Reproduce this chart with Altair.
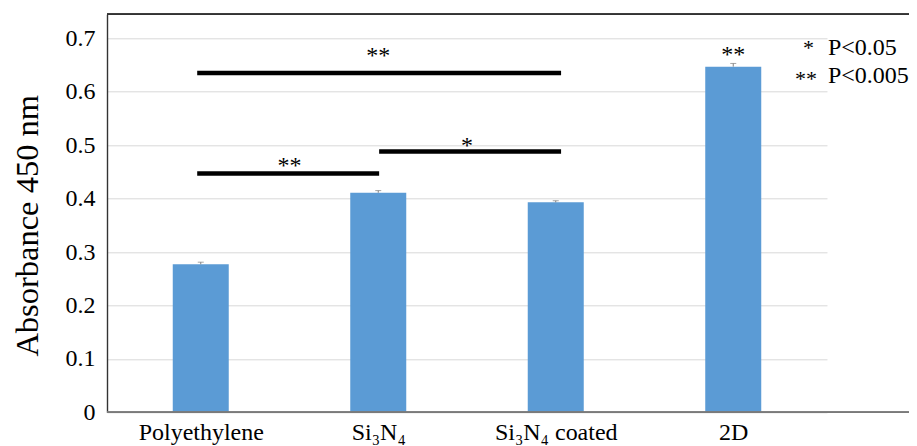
import json
import altair as alt
import pandas as pd

# ---- data ----
categories = ["Polyethylene", "Si\u2083N\u2084", "Si\u2083N\u2084 coated", "2D"]
positions = [0, 1, 2, 3]
absorbance = [0.277, 0.411, 0.393, 0.647]
errors = [0.004, 0.004, 0.003, 0.006]

sig_start = [-0.02, 1.005, -0.02]
sig_end = [1.005, 2.03, 2.03]
sig_level = [0.447, 0.488, 0.635]

star_pos = [0.5, 1.5, 1.0, 3.0]
star_level = [0.4685, 0.506, 0.675, 0.676]
star_label = ["**", "*", "**", "**"]

y_ticks = [0, 0.1, 0.2, 0.3, 0.4, 0.5, 0.6, 0.7]

FONT = "Liberation Serif, Times New Roman, serif"
W, H = 720, 398

bars_df = pd.DataFrame({
    "pos": positions,
    "cat": categories,
    "val": absorbance,
    "top": [v + e for v, e in zip(absorbance, errors)],
})
sig_df = pd.DataFrame({"x": sig_start, "x2": sig_end, "y": sig_level})
star_df = pd.DataFrame({"x": star_pos, "y": star_level, "t": star_label})

label_expr = json.dumps(categories) + "[datum.value]"

xscale = alt.Scale(domain=[-0.5, 3.5], nice=False, zero=False)
yscale = alt.Scale(domain=[0, 0.745], nice=False)

x_axis = alt.Axis(values=positions, labelExpr=label_expr, grid=False, ticks=False,
                  domain=False, labelPadding=8, labelFontSize=24, labelFont=FONT,
                  labelColor="#000000", title=None)
y_axis = alt.Axis(values=y_ticks, grid=True, gridColor="#d9d9d9", gridWidth=1,
                  ticks=False, domain=True, domainColor="#333333", domainWidth=1.4,
                  labelPadding=12, labelFontSize=24, labelFont=FONT, labelColor="#000000",
                  labelExpr="datum.value == 0 ? '0' : format(datum.value, '.1f')",
                  title="Absorbance 450 nm", titleFont=FONT, titleFontSize=32.5,
                  titleFontWeight="normal", titleColor="#000000",
                  titleX=-70, titleY=211, titleBaseline="alphabetic", titleAngle=-90)

base = alt.Chart(bars_df)

bars = base.mark_bar(size=56, color="#5B9BD5").encode(
    x=alt.X("pos:Q", scale=xscale, axis=x_axis),
    y=alt.Y("val:Q", scale=yscale, axis=y_axis),
)
err = base.mark_rule(color="#7f7f7f", strokeWidth=1).encode(
    x="pos:Q", y="val:Q", y2="top:Q")
cap = base.mark_tick(color="#7f7f7f", size=6, thickness=1, orient="horizontal").encode(
    x="pos:Q", y="top:Q")

sig = alt.Chart(sig_df).mark_rule(color="#000000", strokeWidth=4.5).encode(
    x="x:Q", x2="x2:Q", y="y:Q")
stars = alt.Chart(star_df).mark_text(font=FONT, fontSize=24, baseline="middle",
                                     align="center", dy=4, color="#000000").encode(
    x="x:Q", y="y:Q", text="t:N")

top_rule = alt.Chart(bars_df).mark_rule(color="#333333", strokeWidth=1.5).encode(
    x=alt.value(0), x2=alt.value(802), y=alt.value(0))
bottom_rule = alt.Chart(bars_df).mark_rule(color="#7a7a7a", strokeWidth=1.4).encode(
    x=alt.value(0), x2=alt.value(802), y=alt.value(H))

def txt(s, x, y, align, size, baseline):
    return alt.Chart(pd.DataFrame({"t": [s]})).mark_text(
        font=FONT, fontSize=size, align=align, baseline=baseline, color="#000000"
    ).encode(x=alt.value(x), y=alt.value(y), text="t:N")

legend = (
    txt("*", 707, 33.6, "right", 22, "middle")
    + txt("**", 710, 64.6, "right", 22, "middle")
    + txt("P<0.05", 721, 40.7, "left", 24, "alphabetic")
    + txt("P<0.005", 721, 68.7, "left", 24, "alphabetic")
)

chart = alt.layer(bars, err, cap, sig, stars, top_rule, bottom_rule, legend).properties(
    width=W, height=H,
    autosize=alt.AutoSizeParams(type="none"),
    padding={"left": 99, "top": 6.3, "right": 82, "bottom": 34},
).configure(background="white", font=FONT).configure_view(stroke=None)

chart.save("out.html", embed_options={"renderer": "svg", "actions": False})
